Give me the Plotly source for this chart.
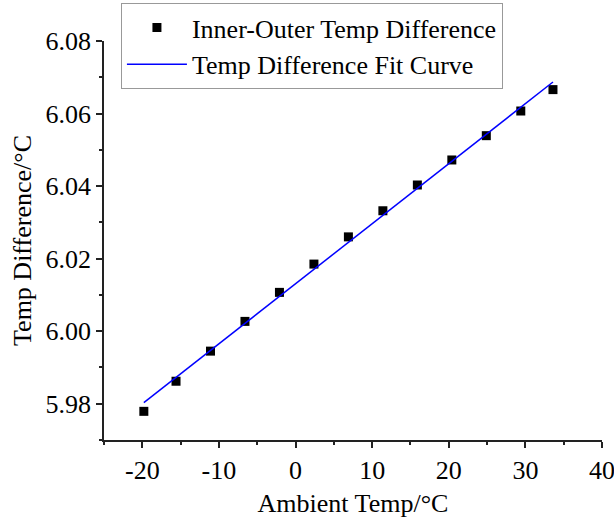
import numpy as np
import plotly.graph_objects as go

# Ambient temperature (°C) and measured inner-outer temperature difference (°C)
ambient_temp = [-19.8, -15.6, -11.1, -6.6, -2.1, 2.4, 6.9, 11.4, 15.9, 20.4, 24.9, 29.4, 33.6]
temp_diff = [5.9779, 5.9862, 5.9945, 6.0027, 6.0107, 6.0185, 6.0260, 6.0332,
             6.0403, 6.0472, 6.0539, 6.0607, 6.0666]

x_ticks = [-20, -10, 0, 10, 20, 30, 40]
y_ticks = [5.98, 6.00, 6.02, 6.04, 6.06, 6.08]

# Linear least-squares fit across the measured range
slope, intercept = np.polyfit(ambient_temp, temp_diff, 1)
fit_x = np.array([ambient_temp[0], ambient_temp[-1]])
fit_y = slope * fit_x + intercept

FONT = "Liberation Serif"

fig = go.Figure()
fig.add_trace(go.Scatter(
    x=ambient_temp, y=temp_diff, mode="markers",
    name="Inner-Outer Temp Difference",
    marker=dict(symbol="square", size=9, color="black"),
))
fig.add_trace(go.Scatter(
    x=fit_x, y=fit_y, mode="lines",
    name="Temp Difference Fit Curve",
    line=dict(color="#0000ff", width=1.5),
))

axis_common = dict(
    showline=True, linecolor="#222", linewidth=1.5, mirror=False,
    showgrid=False, zeroline=False,
    ticks="outside", ticklen=6, tickwidth=1.5, tickcolor="#222",
    tickfont=dict(family=FONT, size=26, color="black"),
    ticklabeloverflow="allow",
)

fig.update_xaxes(
    range=[-25, 40], tickvals=x_ticks, ticktext=[str(v) for v in x_ticks],
    minor=dict(dtick=5, tick0=0, ticks="outside", ticklen=3, tickwidth=1.5, tickcolor="#222"),
    ticklabelstandoff=0,
    title=dict(text="Ambient Temp/°C", font=dict(family=FONT, size=26, color="black"), standoff=18),
    **axis_common,
)
fig.update_yaxes(
    range=[5.97, 6.08], tickvals=y_ticks, ticktext=[f"{v:.2f}" for v in y_ticks],
    minor=dict(dtick=0.01, tick0=5.97, ticks="outside", ticklen=3, tickwidth=1.5, tickcolor="#222"),
    title=dict(text="Temp Difference/°C", font=dict(family=FONT, size=26, color="black"), standoff=6),
    **axis_common,
)

fig.update_layout(
    width=614, height=518, autosize=False,
    margin=dict(l=104, r=12, t=41, b=78, autoexpand=False),
    paper_bgcolor="white", plot_bgcolor="white",
    font=dict(family=FONT, size=26, color="black"),
    legend=dict(
        x=0.034, y=1.095, xanchor="left", yanchor="top",
        bgcolor="white", bordercolor="#999", borderwidth=1,
        font=dict(family=FONT, size=26, color="black"),
        itemwidth=60, tracegroupgap=0,
    ),
    showlegend=True,
)

fig.write_html("out.html")
